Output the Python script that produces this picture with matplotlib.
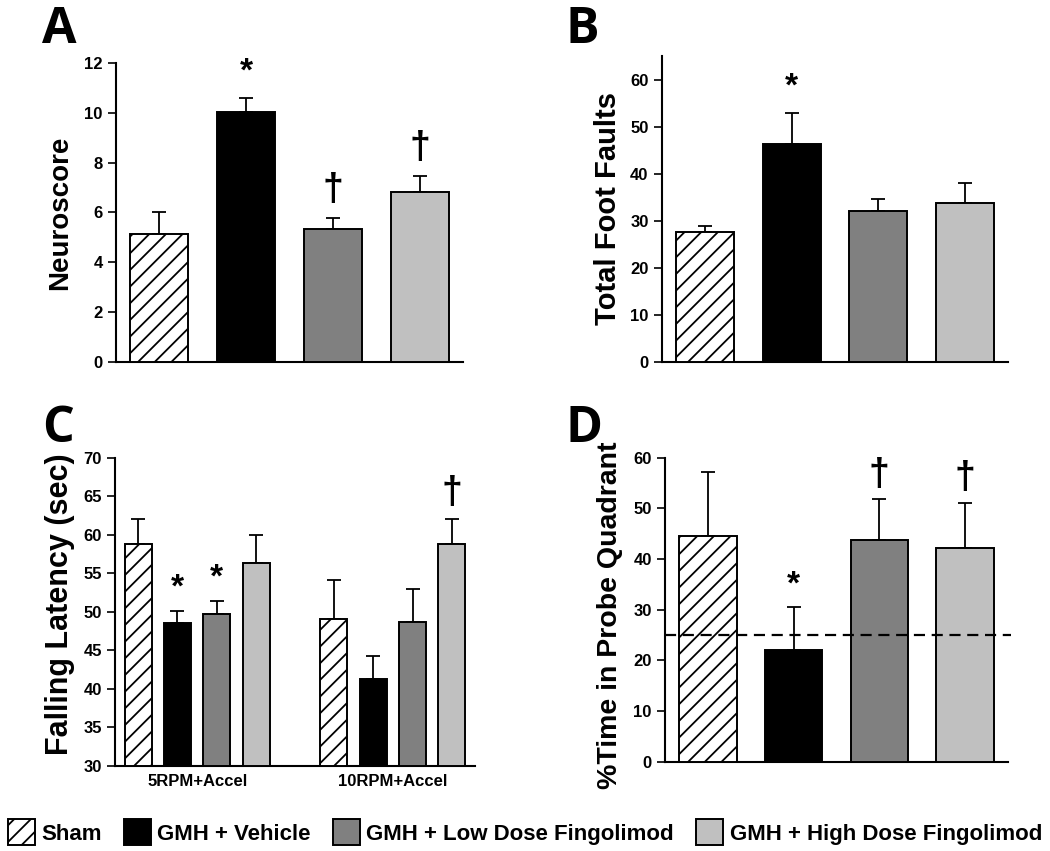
import matplotlib
matplotlib.use("Agg")
import matplotlib.pyplot as plt
from matplotlib import font_manager
from matplotlib.patches import Patch
import numpy as np

# ---------------- data ----------------
groups = ["Sham", "GMH + Vehicle", "GMH + Low Dose Fingolimod", "GMH + High Dose Fingolimod"]

neuro_mean = [5.15, 10.02, 5.32, 6.82]
neuro_err_top = [6.02, 10.6, 5.78, 7.48]
neuro_marks = ["", "*", "\u2020", "\u2020"]

foot_mean = [27.5, 46.2, 32.0, 33.8]
foot_err_top = [28.8, 52.8, 34.6, 38.0]
foot_marks = ["", "*", "", ""]

rotarod_conditions = ["5RPM+Accel", "10RPM+Accel"]
rotarod_mean = {
    "Sham": [58.8, 49.05],
    "GMH + Vehicle": [48.5, 41.2],
    "GMH + Low Dose Fingolimod": [49.7, 48.7],
    "GMH + High Dose Fingolimod": [56.3, 58.8],
}
rotarod_err_top = {
    "Sham": [62.0, 54.1],
    "GMH + Vehicle": [50.05, 44.3],
    "GMH + Low Dose Fingolimod": [51.35, 53.0],
    "GMH + High Dose Fingolimod": [59.9, 62.1],
}
rotarod_marks = {
    "Sham": ["", ""],
    "GMH + Vehicle": ["*", ""],
    "GMH + Low Dose Fingolimod": ["*", ""],
    "GMH + High Dose Fingolimod": ["", "\u2020"],
}

probe_mean = [44.6, 22.0, 43.75, 42.2]
probe_err_top = [57.2, 30.6, 51.8, 51.1]
probe_marks = ["", "*", "\u2020", "\u2020"]
chance_level = 25

# ---------------- style ----------------
names = {f.name for f in font_manager.fontManager.ttflist}
narrow = "Liberation Sans Narrow" if "Liberation Sans Narrow" in names else "Liberation Sans"
plt.rcParams["font.family"] = [narrow, "DejaVu Sans"]
plt.rcParams["hatch.linewidth"] = 1.3

styles = {
    "Sham": dict(facecolor="white", hatch="//"),
    "GMH + Vehicle": dict(facecolor="black"),
    "GMH + Low Dose Fingolimod": dict(facecolor="#808080"),
    "GMH + High Dose Fingolimod": dict(facecolor="#c0c0c0"),
}

fig = plt.figure(figsize=(10.5, 8.51), dpi=100)

def style_axes(ax):
    for s in ["top", "right"]:
        ax.spines[s].set_visible(False)
    ax.spines["left"].set_linewidth(1.5)
    ax.spines["bottom"].set_linewidth(1.5)
    ax.tick_params(axis="y", direction="out", length=6, width=1.2, labelsize=12)
    ax.tick_params(axis="x", length=0)
    for lab in ax.get_yticklabels():
        lab.set_fontweight("bold")

def ylab(ax, text, x, y, size):
    ax.set_ylabel(text, fontsize=size, fontweight="bold", family=["Liberation Sans", "DejaVu Sans"])
    ax.yaxis.set_label_coords(x, y)
    ax.yaxis.label.set_va("center")

def simple_panel(rect, means, tops, marks, ylim, yticks, label, lab_xy, lab_size, mark_off):
    ax = fig.add_axes(rect)
    x = np.arange(len(groups))
    for i, g in enumerate(groups):
        ax.bar(x[i], means[i], width=0.67, edgecolor="black", linewidth=1.4, zorder=3, **styles[g])
    ax.errorbar(x, means, yerr=[np.zeros(len(means)), np.array(tops) - np.array(means)],
                fmt="none", ecolor="black", elinewidth=1.3, capsize=5, capthick=1.3, zorder=2)
    for i, m in enumerate(marks):
        if m:
            fs = 24 if m == "*" else 27
            ax.text(x[i], tops[i] + mark_off, m, ha="center", va="bottom", fontsize=fs,
                    fontweight="bold", family=["Liberation Sans", "DejaVu Sans"])
    ax.set_xlim(-0.5, 3.5)
    ax.set_ylim(*ylim)
    ax.set_yticks(yticks)
    ax.set_xticks([])
    style_axes(ax)
    ylab(ax, label, *lab_xy, lab_size)
    return ax

axA = simple_panel([0.1105, 0.5743, 0.3305, 0.352], neuro_mean, neuro_err_top, neuro_marks,
                   (0, 12), np.arange(0, 13, 2), "Neuroscore", (-0.161, 0.5), 20, 0.4)
axB = simple_panel([0.6302, 0.575, 0.3298, 0.3592], foot_mean, foot_err_top, foot_marks,
                   (0, 65), np.arange(0, 61, 10), "Total Foot Faults", (-0.155, 0.5), 21, 2.2)
axD = simple_panel([0.6333, 0.1049, 0.3267, 0.3573], probe_mean, probe_err_top, probe_marks,
                   (0, 60), np.arange(0, 61, 10), "%Time in Probe Quadrant", (-0.160, 0.483), 20.5, 1.3)
axD.axhline(chance_level, xmin=0, xmax=1.01, color="black", linestyle=(0, (5, 3)),
            linewidth=1.6, zorder=4, clip_on=False)

# Panel C (grouped)
axC = fig.add_axes([0.1095, 0.1002, 0.3429, 0.362])
xc = np.arange(len(rotarod_conditions))
step = 0.201
bw = 0.138
for j, g in enumerate(groups):
    pos = xc + (j - 1.5) * step
    axC.bar(pos, np.array(rotarod_mean[g]) - 30, bottom=30, width=bw, edgecolor="black",
            linewidth=1.4, zorder=3, **styles[g])
    m = np.array(rotarod_mean[g])
    t = np.array(rotarod_err_top[g])
    axC.errorbar(pos, m, yerr=[np.zeros(len(m)), t - m], fmt="none", ecolor="black",
                 elinewidth=1.3, capsize=5, capthick=1.3, zorder=2)
    for k, mk in enumerate(rotarod_marks[g]):
        if mk:
            fs = 24 if mk == "*" else 27
            axC.text(pos[k], t[k] + 1.0, mk, ha="center", va="bottom", fontsize=fs,
                     fontweight="bold", family=["Liberation Sans", "DejaVu Sans"])
axC.set_xlim(-0.42, 1.42)
axC.set_ylim(30, 70)
axC.set_yticks(np.arange(30, 71, 5))
axC.set_xticks(xc)
axC.set_xticklabels(rotarod_conditions, fontsize=12, fontweight="bold")
style_axes(axC)
axC.tick_params(axis="x", pad=6)
ylab(axC, "Falling Latency (sec)", -0.153, 0.525, 22)

# Panel letters
for letter, (px, py) in {"A": (42, 43), "B": (565, 43), "C": (42, 442), "D": (565, 442)}.items():
    fig.text(px / 1050, 1 - py / 851, letter, fontsize=36, fontweight="bold",
             family=["Open Sans", "DejaVu Sans"], ha="left", va="baseline")

# Legend
handles = [Patch(edgecolor="black", linewidth=1.4, label=g, **styles[g]) for g in groups]
fig.legend(handles=handles, loc="center", bbox_to_anchor=(0.5, 0.022), ncol=4, frameon=False,
           prop={"family": narrow, "weight": "bold", "size": 16}, handlelength=1.2,
           handleheight=1.4, handletextpad=0.3, columnspacing=1.0, borderaxespad=0)

fig.savefig("out.png", dpi=100)
